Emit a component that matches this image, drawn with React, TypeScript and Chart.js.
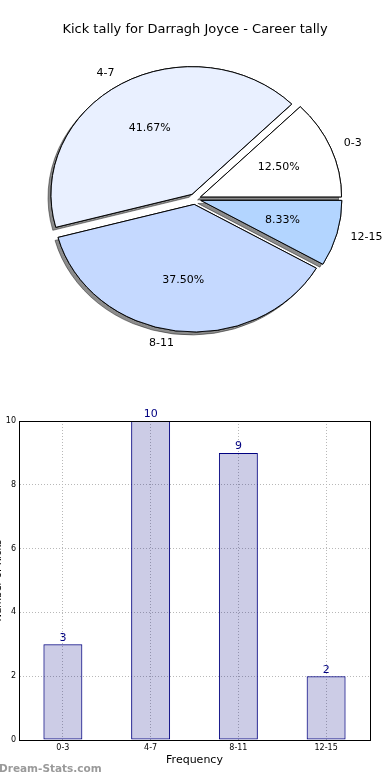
import React, { useEffect, useRef } from "react";
import { Chart, registerables } from "chart.js";

Chart.register(...registerables);

const FONT = "'DejaVu Sans', sans-serif";

const chartTitle = "Kick tally for Darragh Joyce - Career tally";
const categories = ["0-3", "4-7", "8-11", "12-15"];
const kicks = [3, 10, 9, 2];
const pieColors = ["#ffffff", "#e9f0ff", "#c5d9ff", "#b3d5ff"];
const yTicks = [0, 2, 4, 6, 8, 10];
const xAxisTitle = "Frequency";
const yAxisTitle = "Number of Kicks";
const watermark = "Dream-Stats.com";

const PIE_RADIUS = 141;
const PIE_SY = 0.905;
const EXPLODE = 6;

// Chart.js draws clockwise; matplotlib drew counter-clockwise from east.
const pieOrder = [3, 2, 1, 0];

const piePlugin = {
  id: "piePlugin",
  afterDatasetUpdate(chart: any, args: any) {
    args.meta.data.forEach((el: any) => {
      const mid = (el.startAngle + el.endAngle) / 2;
      el.x += EXPLODE * Math.cos(mid);
      el.y += EXPLODE * Math.sin(mid);
    });
  },
  beforeDatasetsDraw(chart: any) {
    const { ctx, chartArea } = chart;
    const cx = (chartArea.left + chartArea.right) / 2 - 0.5;
    const cy = (chartArea.top + chartArea.bottom) / 2;
    ctx.save();
    ctx.translate(cx, cy);
    ctx.scale(1, PIE_SY);
    ctx.translate(-cx, -cy);
    // shadow pass
    ctx.save();
    ctx.shadowColor = "rgba(0,0,0,0.45)";
    ctx.shadowOffsetX = -3;
    ctx.shadowOffsetY = 3;
    ctx.shadowBlur = 0;
    chart.getDatasetMeta(0).data.forEach((el: any) => el.draw(ctx));
    ctx.restore();
  },
  afterDatasetsDraw(chart: any) {
    const { ctx, chartArea } = chart;
    ctx.restore();
    const cy = (chartArea.top + chartArea.bottom) / 2;
    const meta = chart.getDatasetMeta(0);
    const total = kicks.reduce((a, b) => a + b, 0);
    ctx.save();
    ctx.fillStyle = "#000";
    ctx.font = `11px ${FONT}`;
    ctx.textBaseline = "middle";
    meta.data.forEach((el: any, i: number) => {
      const idx = pieOrder[i];
      const mid = (el.startAngle + el.endAngle) / 2;
      const c = Math.cos(mid);
      const s = Math.sin(mid);
      const lx = el.x + 1.1 * PIE_RADIUS * c;
      const ly = cy + (el.y - cy + 1.1 * PIE_RADIUS * s) * PIE_SY;
      ctx.textAlign = c > 0 ? "left" : "right";
      ctx.fillText(categories[idx], lx, ly);
      const px = el.x + 0.6 * PIE_RADIUS * c;
      const py = cy + (el.y - cy + 0.6 * PIE_RADIUS * s) * PIE_SY;
      ctx.textAlign = "center";
      ctx.fillText(((kicks[idx] / total) * 100).toFixed(2) + "%", px, py);
    });
    ctx.restore();
  },
};

const barPlugin = {
  id: "barPlugin",
  afterDatasetsDraw(chart: any) {
    const { ctx, chartArea } = chart;
    const meta = chart.getDatasetMeta(0);
    ctx.save();
    ctx.fillStyle = "#000080";
    ctx.font = `11px ${FONT}`;
    ctx.textAlign = "center";
    ctx.textBaseline = "bottom";
    meta.data.forEach((el: any, i: number) => {
      ctx.fillText(String(kicks[i]), el.x, el.y - 1);
    });
    ctx.strokeStyle = "#000";
    ctx.lineWidth = 1;
    ctx.strokeRect(
      Math.round(chartArea.left) + 0.5,
      Math.round(chartArea.top) + 0.5,
      Math.round(chartArea.right - chartArea.left),
      Math.round(chartArea.bottom - chartArea.top)
    );
    ctx.restore();
  },
  afterDraw(chart: any) {
    const { ctx, chartArea } = chart;
    ctx.save();
    ctx.fillStyle = "#000";
    ctx.font = `10px ${FONT}`;
    ctx.translate(1, (chartArea.top + chartArea.bottom) / 2);
    ctx.rotate(-Math.PI / 2);
    ctx.textAlign = "center";
    ctx.textBaseline = "alphabetic";
    ctx.fillText(yAxisTitle, 0, 0);
    ctx.restore();
    ctx.save();
    ctx.fillStyle = "#9a9a9a";
    ctx.font = `bold 10.5px ${FONT}`;
    ctx.textAlign = "left";
    ctx.textBaseline = "middle";
    ctx.fillText(watermark, -1, chart.height - 11);
    ctx.restore();
  },
};

export default function App() {
  const pieRef = useRef<HTMLCanvasElement | null>(null);
  const barRef = useRef<HTMLCanvasElement | null>(null);

  useEffect(() => {
    const pieChart = new Chart(pieRef.current as HTMLCanvasElement, {
      type: "pie",
      data: {
        labels: pieOrder.map((i) => categories[i]),
        datasets: [
          {
            data: pieOrder.map((i) => kicks[i]),
            backgroundColor: pieOrder.map((i) => pieColors[i]),
            borderColor: "#000",
            borderWidth: 1,
            borderJoinStyle: "miter",
            radius: PIE_RADIUS,
          } as any,
        ],
      },
      options: {
        animation: false,
        responsive: false,
        rotation: 90,
        layout: { padding: { top: 0, bottom: 29.6, left: 0, right: 0 } },
        plugins: {
          legend: { display: false },
          tooltip: { enabled: false },
          title: {
            display: true,
            text: chartTitle,
            color: "#000",
            font: { family: FONT, size: 13, weight: "normal" },
            padding: { top: 22, bottom: 10 },
          },
        },
      },
      plugins: [piePlugin],
    });

    const barChart = new Chart(barRef.current as HTMLCanvasElement, {
      type: "bar",
      data: {
        labels: categories,
        datasets: [
          {
            data: kicks,
            backgroundColor: "rgba(0,0,128,0.2)",
            borderColor: "#000080",
            borderWidth: 1,
            borderSkipped: false,
            barPercentage: 0.444,
            categoryPercentage: 1,
          } as any,
        ],
      },
      options: {
        animation: false,
        responsive: false,
        layout: { padding: { top: 41, right: 20, left: 0, bottom: 0 } },
        plugins: {
          legend: { display: false },
          tooltip: { enabled: false },
        },
        scales: {
          x: {
            grid: { color: "#b8b8b8", offset: false, drawTicks: false },
            border: { color: "#000", dash: [1, 2] },
            ticks: { color: "#000", font: { family: FONT, size: 8 }, padding: 3 },
            title: {
              display: true,
              text: xAxisTitle,
              color: "#000",
              font: { family: FONT, size: 11 },
              padding: { top: 0, bottom: 13 },
            },
            afterFit(scale: any) {
              scale.height = 40;
            },
          },
          y: {
            min: 0,
            max: 10,
            grid: { color: "#b8b8b8", drawTicks: false },
            border: { color: "#000", dash: [1, 2] },
            afterBuildTicks(scale: any) {
              scale.ticks = yTicks.map((v) => ({ value: v }));
            },
            ticks: { color: "#000", font: { family: FONT, size: 8 }, padding: 3 },
            afterFit(scale: any) {
              scale.width = 19;
            },
          },
        },
      },
      plugins: [barPlugin],
    });

    return () => {
      pieChart.destroy();
      barChart.destroy();
    };
  }, []);

  return (
    <div
      style={{
        position: "absolute",
        left: 0,
        top: 0,
        width: 390,
        height: 780,
        background: "#fff",
        overflow: "hidden",
      }}
    >
      <canvas
        ref={pieRef}
        width={390}
        height={380}
        style={{ position: "absolute", left: 0, top: 0, width: 390, height: 380 }}
      />
      <canvas
        ref={barRef}
        width={390}
        height={400}
        style={{ position: "absolute", left: 0, top: 380, width: 390, height: 400 }}
      />
    </div>
  );
}
